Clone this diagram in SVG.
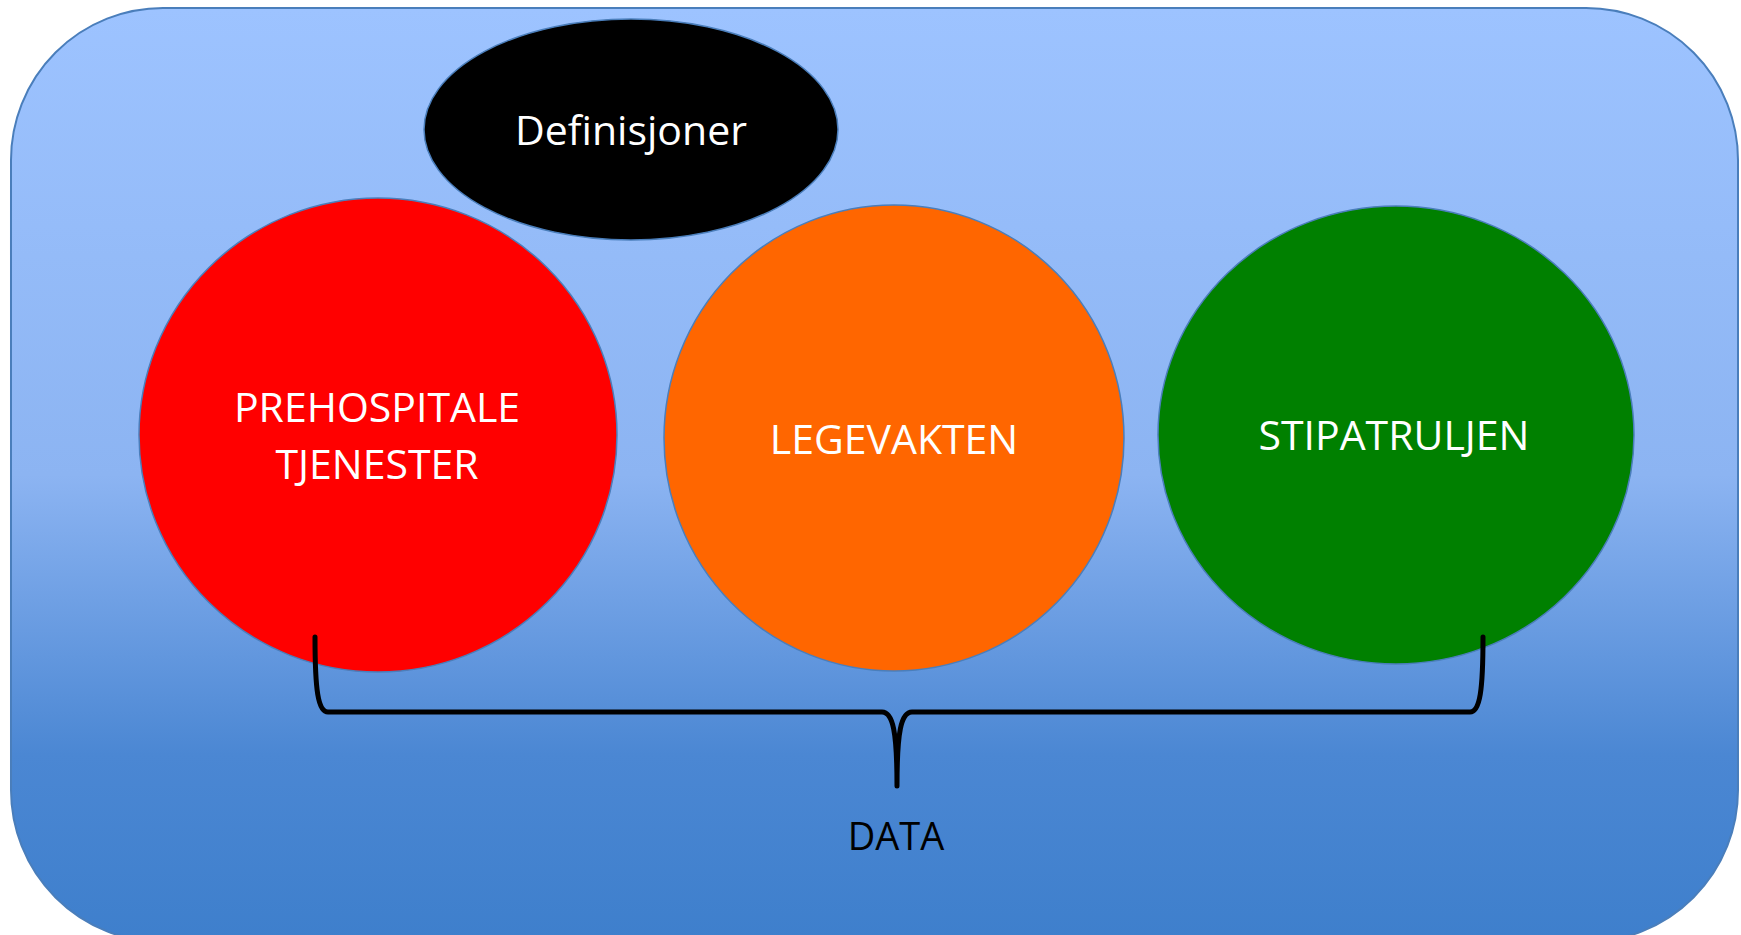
<svg xmlns="http://www.w3.org/2000/svg" width="1741" height="935" viewBox="0 0 1741 935">
<defs>
<linearGradient id="bg" x1="0" y1="0" x2="0" y2="1">
<stop offset="0" stop-color="#9dc3ff"/>
<stop offset="0.5" stop-color="#8cb4f2"/>
<stop offset="0.8" stop-color="#4b87d3"/>
<stop offset="1" stop-color="#3e7fcc"/>
</linearGradient>
<style>
.node{stroke:#4a7ebb;stroke-width:1.5}
.lbl{font-family:"Open Sans","Liberation Sans",sans-serif;font-size:41px;fill:#ffffff;text-anchor:middle}
</style>
</defs>
<rect width="1741" height="935" fill="#ffffff"/>
<rect id="background" x="11" y="8" width="1727" height="934" rx="152" ry="152" fill="url(#bg)" stroke="#4a7ebb" stroke-width="2"/>
<g id="definisjoner">
<ellipse class="node" cx="631" cy="129.5" rx="207" ry="110.5" fill="#000000"/>
<text class="lbl" x="631" y="145" style="font-size:41px">Definisjoner</text>
</g>
<g id="prehospitale">
<ellipse class="node" cx="378" cy="435" rx="239" ry="237" fill="#ff0000"/>
<text class="lbl" x="377" y="422">PREHOSPITALE</text>
<text class="lbl" x="377" y="479">TJENESTER</text>
</g>
<g id="legevakten">
<ellipse class="node" cx="894" cy="438" rx="230" ry="233" fill="#ff6600"/>
<text class="lbl" x="894" y="454">LEGEVAKTEN</text>
</g>
<g id="stipatruljen">
<ellipse class="node" cx="1396" cy="435" rx="238" ry="229" fill="#008000"/>
<text class="lbl" x="1394" y="450">STIPATRULJEN</text>
</g>
<g id="connectors">
<path d="M 315 637 C 315 690, 318 712, 328 712 L 882 712 C 893 712, 897 732, 897 786 C 897 732, 901 712, 912 712 L 1470 712 C 1480 712, 1483 690, 1483 637" fill="none" stroke="#000000" stroke-width="5" stroke-linecap="round" stroke-linejoin="round"/>
</g>
<g id="data">
<text x="896" y="850" style="font-family:'Open Sans','Liberation Sans',sans-serif;font-size:38px;fill:#000000;text-anchor:middle">DATA</text>
</g>
</svg>
